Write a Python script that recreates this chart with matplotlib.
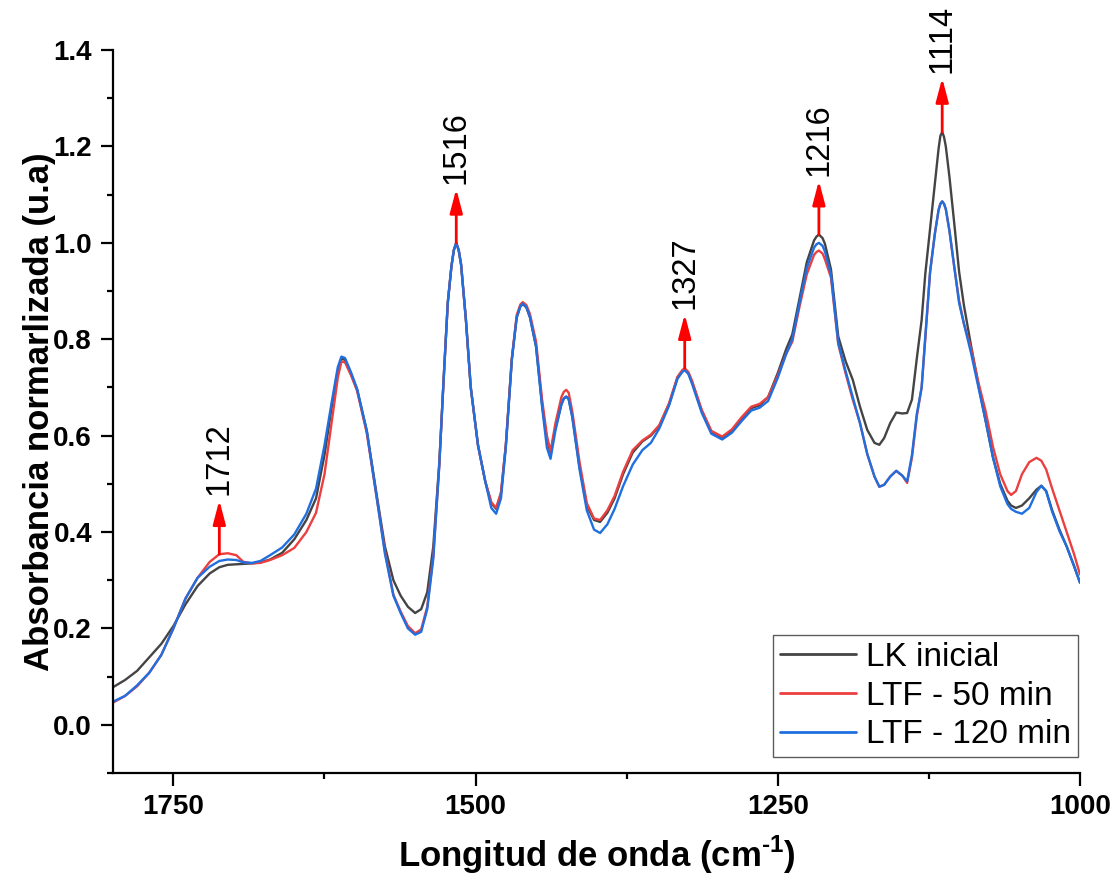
import numpy as np
import matplotlib
matplotlib.use("Agg")
import matplotlib.pyplot as plt
from matplotlib.ticker import MultipleLocator

plt.rcParams['font.family'] = ['Liberation Sans', 'DejaVu Sans']
plt.rcParams['mathtext.fontset'] = 'custom'
plt.rcParams['mathtext.rm'] = 'Liberation Sans:bold'
plt.rcParams['mathtext.bf'] = 'Liberation Sans:bold'

# ---------------- data ----------------
wavenumber = [1800, 1790, 1780, 1770, 1760, 1750, 1740, 1730, 1720, 1712, 1705, 1698,
              1692, 1685, 1678, 1670, 1660, 1650, 1640, 1632, 1625, 1619, 1614, 1611,
              1608, 1603, 1598, 1590, 1582, 1575, 1568, 1562, 1556, 1550, 1545, 1540,
              1535, 1530, 1527, 1525, 1523, 1520, 1518, 1516, 1514, 1512, 1508, 1504,
              1498, 1492, 1487, 1483, 1479, 1475, 1470, 1466, 1463, 1461, 1458, 1455,
              1450, 1445, 1441, 1438, 1434, 1429, 1427, 1425, 1423, 1420, 1414, 1408,
              1402, 1397, 1391, 1385, 1378, 1370, 1362, 1355, 1348, 1340, 1333, 1329,
              1327, 1324, 1321, 1313, 1305, 1296, 1288, 1280, 1272, 1265, 1258, 1250,
              1243, 1238, 1232, 1226, 1220, 1218, 1216, 1213, 1211, 1206, 1200, 1194,
              1188, 1182, 1176, 1170, 1166, 1162, 1157, 1152, 1147, 1143, 1139, 1135,
              1131, 1128, 1124, 1120, 1117, 1115.5, 1114, 1112.5, 1111, 1108, 1104, 1100,
              1096, 1090, 1084, 1078, 1072, 1066, 1060, 1057, 1053, 1048, 1042, 1036,
              1032, 1028, 1023, 1017, 1011, 1005, 1000]

lk_inicial = [0.078, 0.093, 0.112, 0.140, 0.168, 0.205, 0.250, 0.288, 0.314, 0.327, 0.332, 0.333,
              0.334, 0.335, 0.337, 0.343, 0.357, 0.385, 0.425, 0.470, 0.560, 0.660, 0.735, 0.760,
              0.757, 0.728, 0.695, 0.610, 0.480, 0.370, 0.300, 0.268, 0.245, 0.232, 0.240, 0.275,
              0.370, 0.545, 0.690, 0.785, 0.876, 0.951, 0.985, 1.000, 0.985, 0.955, 0.840, 0.700,
              0.580, 0.505, 0.460, 0.448, 0.480, 0.580, 0.760, 0.845, 0.868, 0.873, 0.866, 0.845,
              0.785, 0.665, 0.590, 0.565, 0.615, 0.665, 0.677, 0.681, 0.676, 0.640, 0.535, 0.455,
              0.425, 0.421, 0.440, 0.470, 0.520, 0.565, 0.588, 0.600, 0.620, 0.665, 0.720, 0.734,
              0.738, 0.730, 0.712, 0.652, 0.608, 0.596, 0.610, 0.635, 0.657, 0.663, 0.680, 0.730,
              0.780, 0.810, 0.885, 0.960, 1.005, 1.013, 1.017, 1.010, 0.998, 0.945, 0.806, 0.755,
              0.716, 0.660, 0.612, 0.585, 0.581, 0.595, 0.626, 0.648, 0.646, 0.647, 0.675, 0.760,
              0.840, 0.935, 1.030, 1.125, 1.195, 1.222, 1.230, 1.220, 1.200, 1.137, 1.040, 0.940,
              0.870, 0.785, 0.705, 0.630, 0.555, 0.500, 0.465, 0.455, 0.450, 0.455, 0.470, 0.488,
              0.496, 0.485, 0.445, 0.405, 0.370, 0.330, 0.295]

ltf_50 = [0.046, 0.060, 0.080, 0.108, 0.145, 0.200, 0.262, 0.305, 0.338, 0.354, 0.356, 0.352,
          0.338, 0.335, 0.336, 0.342, 0.352, 0.367, 0.400, 0.440, 0.520, 0.630, 0.720, 0.754,
          0.752, 0.725, 0.693, 0.605, 0.475, 0.360, 0.270, 0.235, 0.205, 0.190, 0.198, 0.245,
          0.350, 0.540, 0.690, 0.785, 0.876, 0.951, 0.985, 1.000, 0.985, 0.955, 0.840, 0.700,
          0.580, 0.505, 0.462, 0.450, 0.482, 0.580, 0.760, 0.850, 0.872, 0.877, 0.871, 0.852,
          0.795, 0.675, 0.600, 0.567, 0.625, 0.680, 0.691, 0.695, 0.689, 0.650, 0.545, 0.460,
          0.428, 0.425, 0.445, 0.475, 0.525, 0.570, 0.590, 0.602, 0.622, 0.667, 0.722, 0.736,
          0.740, 0.732, 0.714, 0.654, 0.610, 0.598, 0.613, 0.638, 0.660, 0.666, 0.680, 0.725,
          0.770, 0.795, 0.868, 0.935, 0.975, 0.981, 0.984, 0.978, 0.966, 0.928, 0.790, 0.730,
          0.675, 0.626, 0.562, 0.515, 0.494, 0.498, 0.515, 0.527, 0.517, 0.502, 0.555, 0.640,
          0.700, 0.800, 0.940, 1.020, 1.068, 1.081, 1.086, 1.081, 1.070, 1.025, 0.950, 0.880,
          0.832, 0.780, 0.710, 0.650, 0.577, 0.520, 0.485, 0.477, 0.485, 0.520, 0.545, 0.554,
          0.548, 0.530, 0.490, 0.445, 0.400, 0.355, 0.312]

ltf_120 = [0.048, 0.060, 0.082, 0.108, 0.145, 0.200, 0.262, 0.305, 0.328, 0.340, 0.343, 0.342,
           0.337, 0.336, 0.340, 0.352, 0.368, 0.395, 0.438, 0.490, 0.580, 0.670, 0.742, 0.764,
           0.761, 0.731, 0.697, 0.610, 0.475, 0.355, 0.268, 0.232, 0.200, 0.187, 0.193, 0.240,
           0.345, 0.540, 0.690, 0.785, 0.876, 0.951, 0.985, 1.000, 0.985, 0.955, 0.840, 0.700,
           0.580, 0.505, 0.450, 0.438, 0.470, 0.575, 0.757, 0.845, 0.868, 0.874, 0.867, 0.846,
           0.785, 0.660, 0.575, 0.552, 0.610, 0.665, 0.677, 0.681, 0.676, 0.638, 0.530, 0.445,
           0.405, 0.398, 0.416, 0.448, 0.495, 0.540, 0.570, 0.585, 0.615, 0.662, 0.718, 0.732,
           0.736, 0.728, 0.708, 0.648, 0.604, 0.592, 0.606, 0.630, 0.652, 0.658, 0.672, 0.720,
           0.770, 0.800, 0.876, 0.948, 0.990, 0.997, 1.000, 0.994, 0.982, 0.935, 0.793, 0.735,
           0.680, 0.626, 0.562, 0.515, 0.494, 0.498, 0.515, 0.527, 0.517, 0.505, 0.560, 0.645,
           0.700, 0.805, 0.940, 1.020, 1.068, 1.081, 1.086, 1.081, 1.070, 1.025, 0.950, 0.875,
           0.832, 0.770, 0.700, 0.630, 0.555, 0.495, 0.458, 0.448, 0.442, 0.438, 0.450, 0.483,
           0.496, 0.485, 0.442, 0.402, 0.370, 0.330, 0.295]

series_names = ['LK inicial', 'LTF - 50 min', 'LTF - 120 min']
peak_positions = [1712, 1516, 1327, 1216, 1114]
peak_labels = ['1712', '1516', '1327', '1216', '1114']
x_ticks = [1750, 1500, 1250, 1000]
y_ticks = [0.0, 0.2, 0.4, 0.6, 0.8, 1.0, 1.2, 1.4]

# ---------------- figure ----------------
fig = plt.figure(figsize=(11.15, 8.86), dpi=100)
ax = fig.add_axes([0.1013, 0.1275, 0.8673, 0.816])

colors = ['#444444', '#ec3f3f', '#1f6fe0']
series = [lk_inicial, ltf_50, ltf_120]
for name, ys, c in zip(series_names, series, colors):
    ax.plot(wavenumber, ys, color=c, lw=1.7, label=name,
            solid_joinstyle='round', solid_capstyle='round')

ax.set_xlim(1800, 1000)
ax.set_ylim(-0.1, 1.4)
ax.set_xticks(x_ticks)
ax.set_yticks(y_ticks)
ax.xaxis.set_minor_locator(MultipleLocator(125))
ax.yaxis.set_minor_locator(MultipleLocator(0.1))
ax.set_yticklabels([f'{v:.1f}' for v in y_ticks])

for s in ['top', 'right']:
    ax.spines[s].set_visible(False)
for s in ['left', 'bottom']:
    ax.spines[s].set_linewidth(1.6)

ax.tick_params(axis='both', which='major', direction='out', length=9, width=1.6,
               labelsize=20, pad=6)
ax.tick_params(axis='both', which='minor', direction='out', length=4.5, width=1.6)
for lab in ax.get_xticklabels() + ax.get_yticklabels():
    lab.set_fontweight('bold')

ax.set_xlabel(r'Longitud de onda (cm$^{\text{-1}}$)', fontsize=25, fontweight='bold', labelpad=10)
ax.set_ylabel('Absorbancia normarlizada (u.a)', fontsize=25, fontweight='bold', labelpad=-2)

# peak arrows + labels
wn = np.array(wavenumber)[::-1]
for pos, lab in zip(peak_positions, peak_labels):
    base = max(np.interp(pos, wn, np.array(s)[::-1]) for s in series)
    tip = base + 0.112
    ax.annotate('', xy=(pos, tip), xytext=(pos, base),
                arrowprops=dict(arrowstyle='-|>,head_length=0.72,head_width=0.19',
                                color='red', lw=2, shrinkA=0, shrinkB=0,
                                mutation_scale=20))
    ax.text(pos, tip + 0.010, lab, rotation=90, ha='center', va='bottom',
            fontsize=23.5, color='black')

leg = ax.legend(loc='lower right', bbox_to_anchor=(0.998, 0.022), borderaxespad=0,
                fontsize=24, frameon=True, fancybox=False, edgecolor='#333333',
                handlelength=2.3, handletextpad=0.3, labelspacing=0.23,
                borderpad=0.2)
leg.get_frame().set_linewidth(1.0)
for line in leg.get_lines():
    line.set_linewidth(2)

fig.savefig('out.png', dpi=100)
